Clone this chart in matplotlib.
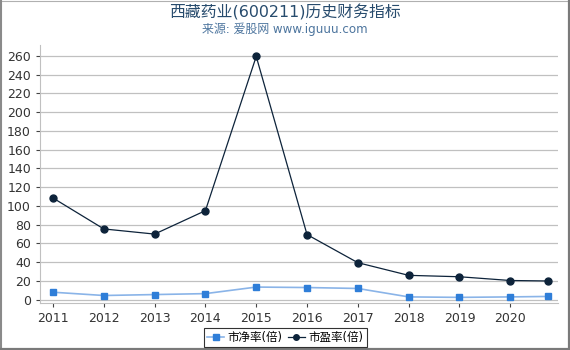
import matplotlib
matplotlib.use('Agg')
import matplotlib.pyplot as plt
from matplotlib.lines import Line2D

plt.rcParams['font.family'] = ['DejaVu Sans', 'Noto Sans CJK SC']

# data
years = [2011, 2012, 2013, 2014, 2015, 2016, 2017, 2018, 2019, 2020, 2020.75]
tick_years = [2011, 2012, 2013, 2014, 2015, 2016, 2017, 2018, 2019, 2020]
pb = [8, 4.5, 5.5, 6.5, 13.5, 13, 12, 3, 2.5, 3, 3.5]
pe = [108.5, 75.5, 70, 95, 259.5, 69.5, 39.5, 26, 24.5, 20.5, 20]

title = '西藏药业(600211)历史财务指标'
subtitle = '来源: 爱股网 www.iguuu.com'

fig = plt.figure(figsize=(5.7, 3.5), dpi=100)
ax = fig.add_axes([40/570, 1-303/350, 518/570, 258/350])

ax.plot(years, pb, color='#8ab4e8', linewidth=1.2, marker='s', markersize=5,
        markerfacecolor='#2f7ed8', markeredgecolor='#2f7ed8', label='市净率(倍)')
ax.plot(years, pe, color='#0d233a', linewidth=0.9, marker='o', markersize=5,
        markerfacecolor='#0d233a', markeredgecolor='#0d233a', label='市盈率(倍)')

ax.set_xlim(2011 - 0.256, 2020.94)
ax.set_ylim(-3.5, 271.7)
ax.set_yticks(range(0, 261, 20))
ax.set_xticks(tick_years)
ax.set_xticklabels([str(y) for y in tick_years])
ax.tick_params(axis='both', labelsize=9, colors='#444444', length=3, width=0.8)
ax.tick_params(axis='both', labelcolor='#333333')
ax.yaxis.grid(True, color='#c0c0c0', linewidth=0.9)
ax.set_axisbelow(True)
for s in ['top', 'right']:
    ax.spines[s].set_visible(False)
for s in ['left', 'bottom']:
    ax.spines[s].set_color('#c0c0c0')

fig.text(0.5, 1-12/350, title, ha='center', va='center', fontsize=11.4, color='#274b6d')
fig.text(0.5, 1-29/350, subtitle, ha='center', va='center', fontsize=8.6, color='#4d759e')

leg = fig.legend(loc='center', bbox_to_anchor=(285.5/570, 1-337.5/350), ncol=2, fontsize=8.3,
                 frameon=True, fancybox=False, borderpad=0.3, handlelength=1.4,
                 handletextpad=0.35, columnspacing=0.5, markerscale=0.8)
leg.get_frame().set_edgecolor('black')
leg.get_frame().set_linewidth(0.8)

# figure frame: thin top, darker right/bottom
w, h = 570, 350
fig.lines.append(Line2D([0, 1], [1 - 0.5/h, 1 - 0.5/h], transform=fig.transFigure, color='#b0b0b0', linewidth=0.8))
fig.lines.append(Line2D([1/w, 1/w], [0, 1], transform=fig.transFigure, color='#8a8a8a', linewidth=1.5))
fig.lines.append(Line2D([1 - 1.5/w, 1 - 1.5/w], [0, 1], transform=fig.transFigure, color='#7a7a7a', linewidth=2.3))
fig.lines.append(Line2D([0, 1], [1.5/h, 1.5/h], transform=fig.transFigure, color='#7a7a7a', linewidth=2.3))

fig.savefig('out.png', dpi=100)
